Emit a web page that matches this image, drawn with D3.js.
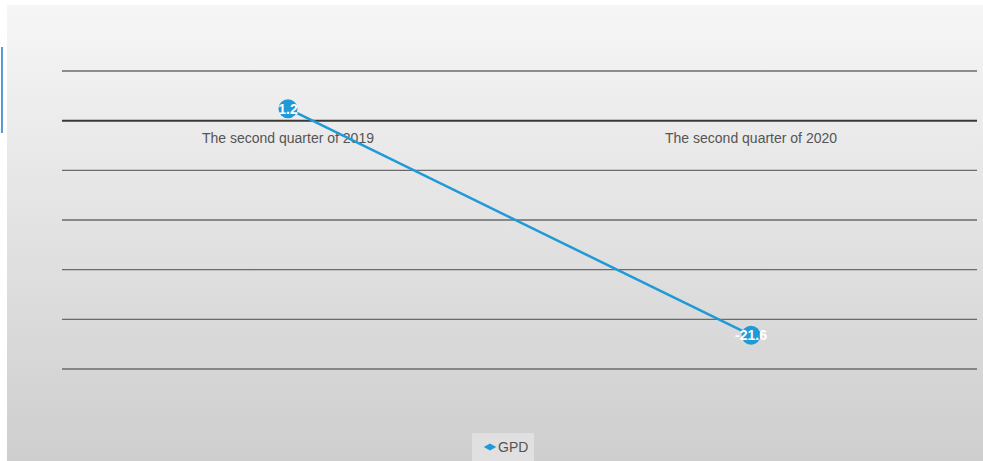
<!DOCTYPE html>
<html><head><meta charset="utf-8">
<script src="https://cdn.jsdelivr.net/npm/d3@7"></script>
<style>body{margin:0;background:#fff;font-family:"Liberation Sans",Arial,sans-serif;}</style>
</head><body><svg id="c" width="983" height="461"></svg>
<script>
const categories = ["The second quarter of 2019", "The second quarter of 2020"];
const gdpValues = [1.2, -21.6];
const yTicks = [5, 0, -5, -10, -15, -20, -25];
const seriesName = "GPD";

const svg = d3.select("#c");
const defs = svg.append("defs");
const grad = defs.append("linearGradient").attr("id","bg").attr("x1",0).attr("y1",0).attr("x2",0).attr("y2",1);
grad.append("stop").attr("offset","0%").attr("stop-color","#f6f6f6");
grad.append("stop").attr("offset","100%").attr("stop-color","#cecece");
svg.append("rect").attr("x",7).attr("y",5).attr("width",976).attr("height",456).attr("fill","url(#bg)");
svg.append("line").attr("x1",2).attr("x2",2).attr("y1",47).attr("y2",133).attr("stroke","#5b9bd5").attr("stroke-width",2);

const left = 62, right = 977;
const x = d3.scalePoint().domain(categories).range([left, right]).padding(0.488);
const y = d3.scaleLinear().domain([-25, 5]).range([369, 71]);

svg.append("g").selectAll("line").data(yTicks).join("line")
  .attr("x1", left).attr("x2", right)
  .attr("y1", d => y(d)).attr("y2", d => y(d))
  .attr("stroke", d => d === 0 ? "#3a3a3a" : "#6a6a6a")
  .attr("stroke-width", d => d === 0 ? 2 : 1.3);

svg.append("g").selectAll("text").data(categories).join("text")
  .attr("x", d => x(d)).attr("y", y(0) + 22)
  .attr("text-anchor","middle").attr("font-size", 14).attr("fill","#555")
  .text(d => d);

const pts = categories.map((c,i)=>({c, v:gdpValues[i]}));
svg.append("path").datum(pts)
  .attr("d", d3.line().x(d=>x(d.c)).y(d=>y(d.v)))
  .attr("fill","none").attr("stroke","#1f9ad6").attr("stroke-width",2.5);

svg.append("g").selectAll("circle").data(pts).join("circle")
  .attr("cx", d=>x(d.c)).attr("cy", d=>y(d.v)).attr("r", 9.5).attr("fill","#1f9ad6");
svg.append("g").selectAll("text").data(pts).join("text")
  .attr("x", d=>x(d.c)).attr("y", d=>y(d.v)+5)
  .attr("text-anchor","middle").attr("font-size",14).attr("font-weight","bold").attr("fill","#fff")
  .text(d=>d.v);

// legend
const lg = svg.append("g");
lg.append("rect").attr("x",472).attr("y",433).attr("width",62).attr("height",28).attr("fill","#e0e0e0");
lg.append("path").attr("d", d3.symbol(d3.symbolDiamond, 45)()).attr("transform","translate(490,447) rotate(90)").attr("fill","#1f9ad6");
lg.append("text").attr("x",498).attr("y",452).attr("font-size",14).attr("fill","#555").text(seriesName);
</script></body></html>
